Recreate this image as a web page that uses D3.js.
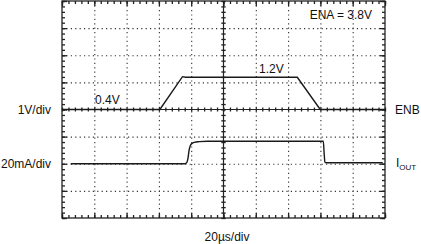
<!DOCTYPE html>
<html>
<head>
<meta charset="utf-8">
<script src="https://cdn.jsdelivr.net/npm/d3@7"></script>
<style>
  body { margin: 0; background: #fff; }
  text { font-family: "Liberation Sans", Arial, sans-serif; font-size: 12px; fill: #111; }
</style>
</head>
<body>
<svg width="421" height="244"></svg>
<script>
// time in µs (20 µs/div), ENB in V (1 V/div), IOUT in mA (20 mA/div)
const enbTime = [0, 60.6, 74.6, 76.5, 145.7, 159.9, 200];
const enbVolts = [0, 0, 1.21, 1.19, 1.19, 0, 0];

const ioutTime = [5.4, 76.2, 77.3, 78.0, 78.7, 79.5, 80.5, 82, 85, 90, 161.8, 162.3, 162.8, 163.5, 198.6];
const ioutMa = [0, 0, 1, 4, 10, 13.5, 15, 15.8, 16.3, 16.6, 16.6, 8, 1.2, 0.7, 0.7];

const timeGrid = [20, 40, 60, 80, 120, 140, 160, 180];
const divGrid = [-3, -2, -1, 1, 2, 3];
const timeMinor = d3.range(0, 200.1, 4);
const divMinor = d3.range(-4, 4.01, 0.2);

const svg = d3.select("svg");
const pLeft = 62, pRight = 385, pTop = 1, pBottom = 218;

const x = d3.scaleLinear().domain([0, 200]).range([pLeft, pRight]);
const y = d3.scaleLinear().domain([-4, 4]).range([pBottom, pTop]);

const enbY = v => y(v / 1);
const ioutY = ma => y(ma / 20 - 2);

// dotted grid
const grid = svg.append("g").attr("class", "grid");
grid.append("g")
  .attr("transform", `translate(0,${pBottom})`)
  .call(d3.axisBottom(x).tickValues(timeGrid).tickSize(-(pBottom - pTop)).tickFormat(""));
grid.append("g")
  .attr("transform", `translate(${pLeft},0)`)
  .call(d3.axisLeft(y).tickValues(divGrid).tickSize(-(pRight - pLeft)).tickFormat(""));
grid.selectAll(".domain").remove();
grid.selectAll("line")
  .attr("stroke", "#333")
  .attr("stroke-width", 1.1)
  .attr("stroke-dasharray", "1.2,3.2");

// border ticks, pointing inward
function edge(axis, tr, vals, size) {
  const g = svg.append("g").attr("transform", tr)
    .call(axis.tickValues(vals).tickSize(size).tickFormat(""));
  g.select(".domain").remove();
  g.selectAll("line").attr("stroke", "#222").attr("stroke-width", 1.3);
}
const majT = d3.range(0, 200.1, 20), majD = d3.range(-4, 4.01, 1);
edge(d3.axisBottom(x), `translate(0,${pBottom})`, timeMinor, -3);
edge(d3.axisBottom(x), `translate(0,${pBottom})`, majT, -5);
edge(d3.axisTop(x), `translate(0,${pTop})`, timeMinor, -3);
edge(d3.axisTop(x), `translate(0,${pTop})`, majT, -5);
edge(d3.axisLeft(y), `translate(${pLeft},0)`, divMinor, -3);
edge(d3.axisLeft(y), `translate(${pLeft},0)`, majD, -5);
edge(d3.axisRight(y), `translate(${pRight},0)`, divMinor, -3);
edge(d3.axisRight(y), `translate(${pRight},0)`, majD, -5);

// center axes with crossing ticks
const cy = y(0), cx = x(100);
svg.append("line").attr("x1", pLeft).attr("x2", pRight).attr("y1", cy).attr("y2", cy)
  .attr("stroke", "#222").attr("stroke-width", 1.2);
svg.append("line").attr("x1", cx).attr("x2", cx).attr("y1", pTop).attr("y2", pBottom)
  .attr("stroke", "#222").attr("stroke-width", 1.2);
edge(d3.axisBottom(x), `translate(0,${cy - 2})`, timeMinor, 4);
edge(d3.axisRight(y), `translate(${cx - 2.2},0)`, divMinor, 4.4);

// frame
svg.append("rect")
  .attr("x", pLeft).attr("y", pTop)
  .attr("width", pRight - pLeft).attr("height", pBottom - pTop)
  .attr("fill", "none").attr("stroke", "#222").attr("stroke-width", 1.3);

// traces
const enbLine = d3.line().x(d => x(d[0])).y(d => enbY(d[1]));
svg.append("path")
  .datum(d3.zip(enbTime, enbVolts))
  .attr("d", enbLine)
  .attr("fill", "none").attr("stroke", "#1a1a1a").attr("stroke-width", 1.4);

const ioutLine = d3.line().x(d => x(d[0])).y(d => ioutY(d[1])).curve(d3.curveMonotoneX);
svg.append("path")
  .datum(d3.zip(ioutTime, ioutMa))
  .attr("d", ioutLine)
  .attr("fill", "none").attr("stroke", "#1a1a1a").attr("stroke-width", 1.4);

// labels
svg.append("text").attr("x", 51).attr("y", cy + 4).attr("text-anchor", "end").text("1V/div");
svg.append("text").attr("x", 51).attr("y", ioutY(0) + 4).attr("text-anchor", "end").text("20mA/div");
svg.append("text").attr("x", 395).attr("y", cy + 4).text("ENB");
const io = svg.append("text").attr("x", 396).attr("y", ioutY(0) + 3.5).text("I");
io.append("tspan").attr("dy", 3).style("font-size", "8px").text("OUT");
svg.append("text").attr("x", 227).attr("y", 241).attr("text-anchor", "middle").text("20µs/div");
svg.append("text").attr("x", 372).attr("y", 19).attr("text-anchor", "end").text("ENA = 3.8V");
svg.append("text").attr("x", 95).attr("y", 104).text("0.4V");
svg.append("text").attr("x", 259).attr("y", 73).text("1.2V");
</script>
</body>
</html>
